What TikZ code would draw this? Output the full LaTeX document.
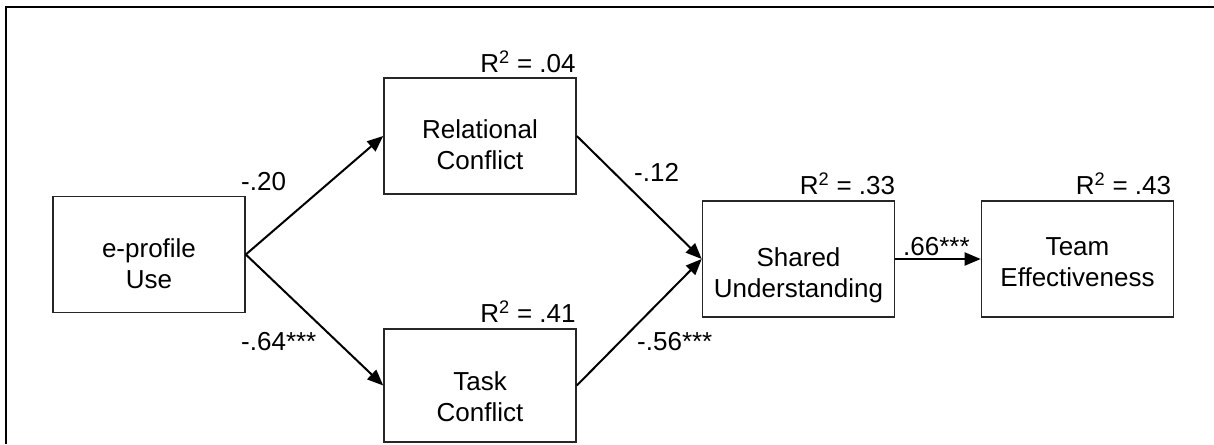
\documentclass[tikz,border=0pt]{standalone}
\usepackage{fontspec}
\setmainfont{Liberation Sans}
\usetikzlibrary{arrows.meta}

% first-line strut, pushes the box text down
\newcommand{\droptext}[1]{\rule{0pt}{#1}}

\begin{document}
\begin{tikzpicture}[x=1pt, y=-1pt,
        varbox/.style={rectangle, draw=black!85, line width=1.6pt, minimum width=192pt, minimum height=116pt,
            align=center, inner sep=0pt, font=\fontsize{26}{31}\selectfont},
        arrowline/.style={line width=2pt, -{Triangle[length=16pt, width=13pt]}},
        coef/.style={anchor=base west, inner sep=0pt, font=\fontsize{26}{31}\selectfont},
        rsq/.style={anchor=base east, inner sep=0pt, font=\fontsize{26}{31}\selectfont}]
    \useasboundingbox (0,0) rectangle (1214,444);
    \draw [line width=2pt] (5.7,444) -- (5.7,7.5) -- (1214,7.5);

    % variables
    \node [varbox] (epro) at (149,254.5) {\droptext{38pt}e-profile\\Use};
    \node [varbox] (rel) at (480,136) {\droptext{37pt}Relational\\Conflict};
    \node [varbox, minimum height=113pt] (task) at (480,385.5) {\droptext{41pt}Task\\Conflict};
    \node [varbox] (shared) at (798.5,259) {\droptext{51pt}Shared\\Understanding};
    \node [varbox] (team) at (1077.5,259) {\droptext{25pt}Team\\Effectiveness};

    % paths
    \draw [arrowline] (epro.east) -- (rel.west);
    \draw [arrowline] (epro.east) -- (task.west);
    \draw [arrowline] (rel.east) -- (shared.west);
    \draw [arrowline] (task.east) -- (shared.west);
    \draw [arrowline] (shared.east) -- (team.west);

    % coefficients
    \node [coef] (c20) at (241,190) {-.20};
    \node [coef] (c64) at (241,350) {-.64***};
    \node [coef] (c12) at (634,181) {-.12};
    \node [coef] (c56) at (637,350) {-.56***};
    \node [coef] (c66) at (903,255) {.66***};

    % explained variance
    \node [rsq] (rrel) at ([xshift=-1pt, yshift=5pt]rel.north east) {R\textsuperscript{2} = .04};
    \node [rsq] (rtask) at ([xshift=-1pt, yshift=6pt]task.north east) {R\textsuperscript{2} = .41};
    \node [rsq] (rshared) at ([xshift=0pt, yshift=6pt]shared.north east) {R\textsuperscript{2} = .33};
    \node [rsq] (rteam) at ([xshift=-3pt, yshift=6pt]team.north east) {R\textsuperscript{2} = .43};
\end{tikzpicture}
\end{document}
